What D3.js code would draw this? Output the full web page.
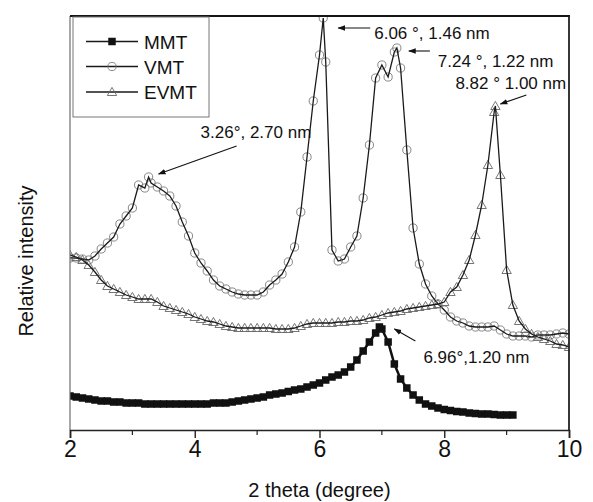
<!DOCTYPE html>
<html>
<head>
<meta charset="utf-8">
<script src="https://cdn.jsdelivr.net/npm/d3@7"></script>
<style>
  body { margin: 0; background: #fff; }
  svg { display: block; }
  text { font-family: "Liberation Sans", Arial, "DejaVu Sans", sans-serif; fill: #111; }
</style>
</head>
<body>
<svg id="chart" width="593" height="502"></svg>
<script>
// XRD patterns, 2-theta sampled every 0.1 degree from 2.0
const angleStart = 2.0;
const angleStep = 0.1;

// MMT, 2.0 .. 9.1 degree
const mmtIntensity = [
  34, 33, 32, 31, 30, 29, 29, 28, 28, 27,
  27, 27, 26, 26, 26, 26, 26, 26, 26, 26,
  26, 26, 26, 27, 27, 27, 28, 29, 30, 31,
  32, 33, 35, 36, 37, 38.5, 40, 41, 43, 45,
  47, 50, 53, 55, 58, 63, 70, 79, 88, 97,
  101, 88, 66, 51, 42, 35, 30, 26, 24, 22,
  20.5, 19.5, 18.5, 18, 17, 16.5, 16, 16, 15.5, 15,
  15, 15
];

// VMT, 2.0 .. 10.0 degree
const vmtIntensity = [
  172, 172, 171, 170, 174, 181, 187, 193, 206, 214,
  222, 245, 242, 247, 243, 239, 234, 224, 208, 194,
  177, 167, 159, 150, 144, 141, 138, 136, 135, 135,
  135, 138, 145, 150, 156, 168, 183, 218, 273, 329,
  375, 368, 180, 169, 171, 183, 194, 232, 285, 352,
  365, 353, 378, 362, 280, 202, 166, 146, 134, 126,
  120, 113, 109, 107, 104, 103, 103, 103, 104, 100,
  96, 94, 94, 94, 93, 95, 95, 95, 96, 97,
  96
];

// EVMT, 2.0 .. 10.0 degree
const evmtIntensity = [
  175, 173, 170, 165, 158, 150, 144, 141, 138, 135,
  133, 131, 131, 131, 128, 124, 122, 120, 118, 116,
  113, 111, 109, 108, 106, 104, 103, 102, 102, 102,
  102, 102, 102, 101, 101, 101, 102, 104, 106, 107,
  107, 107, 107, 108, 108, 109, 109, 110, 112, 113,
  115, 117, 118, 119, 121, 122, 123, 124, 125, 126,
  128, 138, 143, 155, 170, 195, 225, 265, 318, 255,
  160, 125, 109, 101, 96, 93, 91, 89, 86, 85,
  83
];

// Reflection maxima [2-theta, intensity]
const mmtPeaks = [[6.96, 103]];
const vmtPeaks = [[3.26, 253], [6.06, 412], [7.24, 382]];
const evmtPeaks = [[8.82, 324]];

const seriesNames = ["MMT", "VMT", "EVMT"];
const xTicks = [2, 4, 6, 8, 10];
const xMinorTicks = [3, 5, 7, 9];

// Peak labels: text, 2-theta of the marked peak, series intensity at it
const labelTexts = ["3.26°, 2.70 nm", "6.06 °, 1.46 nm", "7.24 °, 1.22 nm", "8.82 ° 1.00 nm", "6.96°,1.20 nm"];
const labelAngles = [3.26, 6.06, 7.24, 8.82, 6.96];
const labelIntensity = [253, 412, 382, 324, 103];

// ---------------------------------------------------------------
const svg = d3.select("#chart");
const plot = { left: 70, right: 569, top: 16, bottom: 430 };

const x = d3.scaleLinear().domain([2, 10]).range([plot.left, plot.right]);
const y = d3.scaleLinear().domain([0, 414]).range([plot.bottom, plot.top]);

function buildSeries(values, peaks) {
  const pts = values.map((v, i) => ({ x: +(angleStart + i * angleStep).toFixed(2), y: v }));
  peaks.forEach(p => pts.push({ x: p[0], y: p[1] }));
  pts.sort((a, b) => a.x - b.x);
  return pts;
}

const mmt = buildSeries(mmtIntensity, mmtPeaks);
const vmt = buildSeries(vmtIntensity, vmtPeaks);
const evmt = buildSeries(evmtIntensity, evmtPeaks);

const defs = svg.append("defs");
defs.append("clipPath").attr("id", "plotClip")
  .append("rect")
  .attr("x", plot.left).attr("y", plot.top)
  .attr("width", plot.right - plot.left).attr("height", plot.bottom - plot.top);

const line = d3.line().x(d => x(d.x)).y(d => y(d.y));

const g = svg.append("g").attr("clip-path", "url(#plotClip)");

// marker shapes
const sqSize = 7.5;
const triPath = d3.symbol().type(d3.symbolTriangle).size(38);

function drawSquares(sel, data) {
  sel.selectAll(null).data(data).enter().append("rect")
    .attr("x", d => x(d.x) - sqSize / 2).attr("y", d => y(d.y) - sqSize / 2)
    .attr("width", sqSize).attr("height", sqSize)
    .attr("fill", "#111");
}
function drawCircles(sel, data) {
  sel.selectAll(null).data(data).enter().append("circle")
    .attr("cx", d => x(d.x)).attr("cy", d => y(d.y)).attr("r", 4.1)
    .attr("fill", "none").attr("stroke", "#7a7a7a").attr("stroke-width", 0.9);
}
function drawTriangles(sel, data) {
  sel.selectAll(null).data(data).enter().append("path")
    .attr("d", triPath)
    .attr("transform", d => `translate(${x(d.x)},${y(d.y) + 0.8})`)
    .attr("fill", "none").attr("stroke", "#666").attr("stroke-width", 0.9);
}

// MMT
const gM = g.append("g");
gM.append("path").datum(mmt).attr("d", line)
  .attr("fill", "none").attr("stroke", "#111").attr("stroke-width", 2.5);
drawSquares(gM, mmt);

// VMT
const gV = g.append("g");
drawCircles(gV, vmt);
gV.append("path").datum(vmt).attr("d", line)
  .attr("fill", "none").attr("stroke", "#1a1a1a").attr("stroke-width", 1.3);

// EVMT
const gE = g.append("g");
drawTriangles(gE, evmt);
gE.append("path").datum(evmt).attr("d", line)
  .attr("fill", "none").attr("stroke", "#1a1a1a").attr("stroke-width", 1.3);

// ---------------- frame & axis ----------------
svg.append("line").attr("x1", plot.left).attr("x2", plot.left)
  .attr("y1", plot.top).attr("y2", plot.bottom)
  .attr("stroke", "#6e6e6e").attr("stroke-width", 1.2);
svg.append("line").attr("x1", plot.left).attr("x2", plot.right + 1)
  .attr("y1", plot.top).attr("y2", plot.top)
  .attr("stroke", "#151515").attr("stroke-width", 2.2);
svg.append("line").attr("x1", plot.right).attr("x2", plot.right)
  .attr("y1", plot.top).attr("y2", plot.bottom)
  .attr("stroke", "#222").attr("stroke-width", 1.8);

const xAxis = d3.axisBottom(x).tickValues(xTicks).tickSize(8).tickPadding(3)
  .tickFormat(d3.format("d"));
const ax = svg.append("g").attr("transform", `translate(0,${plot.bottom})`).call(xAxis);
ax.select(".domain").attr("stroke", "#222").attr("stroke-width", 1.6);
ax.selectAll(".tick line").attr("stroke", "#222").attr("stroke-width", 1.4);
ax.selectAll(".tick text").attr("font-size", 23).attr("fill", "#111")
  .style("font-family", '"Liberation Sans", Arial, sans-serif');

svg.append("g").selectAll(null).data(xMinorTicks).enter().append("line")
  .attr("x1", d => x(d)).attr("x2", d => x(d))
  .attr("y1", plot.bottom).attr("y2", plot.bottom + 5)
  .attr("stroke", "#222").attr("stroke-width", 1.2);

svg.append("text").attr("x", (plot.left + plot.right) / 2).attr("y", 497)
  .attr("text-anchor", "middle").attr("font-size", 20).text("2 theta (degree)");

svg.append("text")
  .attr("transform", `translate(33,${(plot.top + plot.bottom) / 2 + 38}) rotate(-90)`)
  .attr("text-anchor", "middle").attr("font-size", 20).text("Relative intensity");

// ---------------- legend ----------------
const lg = svg.append("g");
lg.append("rect").attr("x", 73).attr("y", plot.top + 1).attr("width", 136).attr("height", 100)
  .attr("fill", "#fff").attr("stroke", "#777").attr("stroke-width", 1);
const legendRows = [41.5, 66.5, 92];
seriesNames.forEach((name, i) => {
  const ly = legendRows[i];
  lg.append("line").attr("x1", 86).attr("x2", 138).attr("y1", ly).attr("y2", ly)
    .attr("stroke", "#1a1a1a").attr("stroke-width", i === 0 ? 1.6 : 1.3);
  const pt = [{ x: x.invert(112), y: y.invert(ly) }];
  if (i === 0) drawSquares(lg, pt);
  else if (i === 1) drawCircles(lg, pt);
  else drawTriangles(lg, pt);
  lg.append("text").attr("x", 144).attr("y", ly + 7).attr("font-size", 19).text(name);
});

// ---------------- peak annotations ----------------
defs.append("marker").attr("id", "arrowHead")
  .attr("viewBox", "0 0 10 10").attr("refX", 9).attr("refY", 5)
  .attr("markerWidth", 7).attr("markerHeight", 7).attr("orient", "auto")
  .append("path").attr("d", "M0,1.5 L10,5 L0,8.5 Z").attr("fill", "#111");

// arrow tail/tip and text anchor as offsets from each peak position
const arrowLayout = [
  { tail: [88, -31], tip: [10, -3], text: [52, -39] },
  { tail: [47, 10], tip: [15, 10], text: [51, 21] },
  { tail: [33, 3], tip: [12, 3], text: [41, 19] },
  { tail: [31, -11], tip: [5, -2], text: [-40, -17] },
  { tail: [36, 14], tip: [15, 2], text: [44, 36] }
];
labelTexts.forEach((t, i) => {
  const px = x(labelAngles[i]), py = y(labelIntensity[i]);
  const L = arrowLayout[i];
  svg.append("line")
    .attr("x1", px + L.tail[0]).attr("y1", py + L.tail[1])
    .attr("x2", px + L.tip[0]).attr("y2", py + L.tip[1])
    .attr("stroke", "#111").attr("stroke-width", 1.1)
    .attr("marker-end", "url(#arrowHead)");
  svg.append("text").attr("x", px + L.text[0]).attr("y", py + L.text[1])
    .attr("font-size", 17).text(t);
});
</script>
</body>
</html>
